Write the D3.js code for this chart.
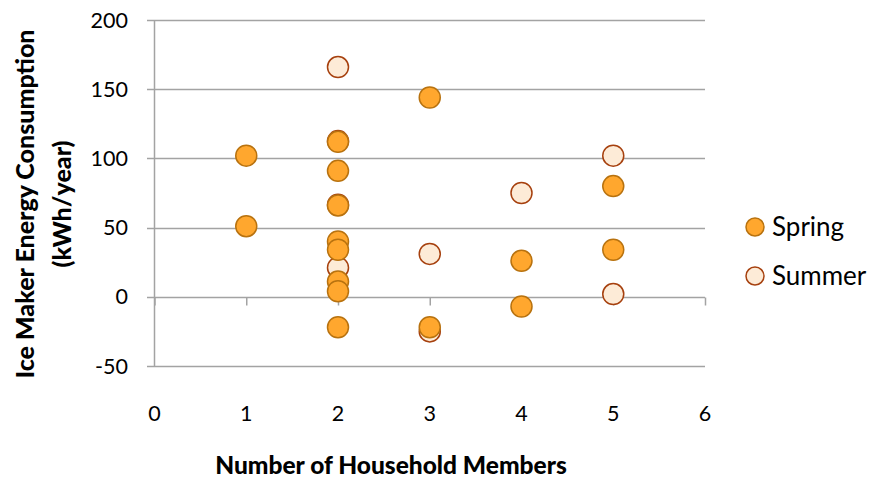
<!DOCTYPE html>
<html><head><meta charset="utf-8">
<script src="https://cdn.jsdelivr.net/npm/d3@7"></script>
<style>body{margin:0;background:#fff}svg{display:block}text{font-family:Lato,"Open Sans",sans-serif;fill:#000}</style>
</head><body><svg id="c" width="879" height="487"></svg>
<script>
const seriesNames = ["Spring", "Summer"];
const springX = [1, 1, 2, 2, 2, 2, 2, 2, 2, 2, 3, 3, 4, 4, 5, 5];
const springY = [102, 51, 112, 91, 66, 40, 34, 11, 4, -22, 144, -22, 26, -7, 80, 34];
const summerX = [2, 2, 2, 2, 3, 3, 4, 5, 5];
const summerY = [166, 112.5, 66.5, 21, 31, -25, 75, 102, 2];
const xTicks = [0, 1, 2, 3, 4, 5, 6];
const yTicks = [-50, 0, 50, 100, 150, 200];
const xTitle = "Number of Household Members";
const yTitleLines = ["Ice Maker Energy Consumption", "(kWh/year)"];

const colors = {Spring: {fill: "#FFA72E", stroke: "#B8720F"}, Summer: {fill: "#FDEBD7", stroke: "#A6400E"}};

const svg = d3.select("#c");
const x = d3.scaleLinear().domain([0, 6]).range([154.5, 705]);
const y = d3.scaleLinear().domain([-50, 200]).range([366, 20]);

svg.append("g").selectAll("line").data(yTicks).join("line")
  .attr("x1", 147).attr("x2", x(6))
  .attr("y1", d => Math.round(y(d)) + 0.5).attr("y2", d => Math.round(y(d)) + 0.5)
  .attr("stroke", "#a3a3a3").attr("stroke-width", 1.5);

svg.append("line").attr("x1", x(0)).attr("x2", x(0)).attr("y1", y(200)).attr("y2", y(-50))
  .attr("stroke", "#a3a3a3").attr("stroke-width", 1.5);

const xAxis = d3.axisBottom(x).tickValues(xTicks).tickSize(8).tickFormat("");
const gx = svg.append("g").attr("transform", `translate(0,${Math.round(y(0)) + 0.5})`).call(xAxis);
gx.select(".domain").remove();
gx.selectAll(".tick line").attr("stroke", "#a3a3a3").attr("stroke-width", 1.5);

svg.append("g").selectAll("text").data(yTicks).join("text")
  .attr("x", 128).attr("y", d => y(d)).attr("dy", "0.35em")
  .attr("text-anchor", "end").style("font-size", "21.5px").text(d => d);

svg.append("g").selectAll("text").data(xTicks).join("text")
  .attr("x", d => x(d)).attr("y", 421)
  .attr("text-anchor", "middle").style("font-size", "21.5px").text(d => d);

svg.append("text").attr("x", 391).attr("y", 474).attr("text-anchor", "middle")
  .style("font-size", "24.5px").style("font-weight", "900").text(xTitle);
const yt = svg.append("text").attr("transform", "translate(0,204) rotate(-90)")
  .attr("text-anchor", "middle").style("font-size", "25px").style("font-weight", "900");
yTitleLines.forEach((t, i) => yt.append("tspan").attr("x", 0).attr("y", 34 + i * 37).text(t));

const summer = summerX.map((d, i) => ({x: d, y: summerY[i]}));
const spring = springX.map((d, i) => ({x: d, y: springY[i]}));
[["Summer", summer], ["Spring", spring]].forEach(([name, data]) => {
  svg.append("g").selectAll("circle").data(data).join("circle")
    .attr("cx", d => x(d.x)).attr("cy", d => y(d.y)).attr("r", 10.5)
    .attr("fill", colors[name].fill).attr("stroke", colors[name].stroke).attr("stroke-width", 1.5);
});

const lg = svg.append("g");
seriesNames.forEach((n, i) => {
  const cy = 227 + i * 49;
  lg.append("circle").attr("cx", 755).attr("cy", cy).attr("r", 9)
    .attr("fill", colors[n].fill).attr("stroke", colors[n].stroke).attr("stroke-width", 1.5);
  lg.append("text").attr("x", 772).attr("y", cy).attr("dy", "0.35em").style("font-size", "26px").text(n);
});
</script></body></html>
